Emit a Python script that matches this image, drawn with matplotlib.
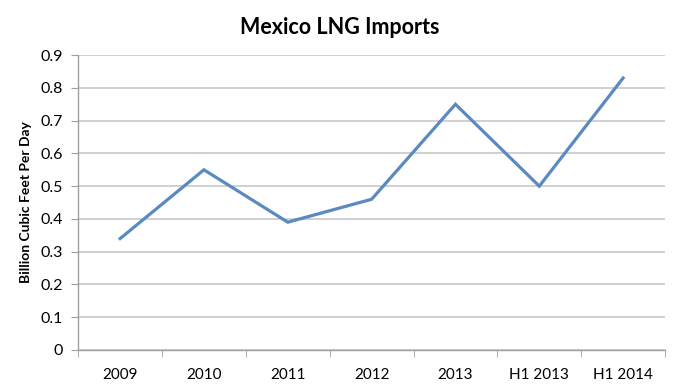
import matplotlib
matplotlib.use('Agg')
import matplotlib.pyplot as plt

categories = ['2009', '2010', '2011', '2012', '2013', 'H1 2013', 'H1 2014']
imports_bcfd = [0.34, 0.55, 0.39, 0.46, 0.75, 0.50, 0.83]
y_ticks = [0, 0.1, 0.2, 0.3, 0.4, 0.5, 0.6, 0.7, 0.8, 0.9]
y_tick_labels = ['0', '0.1', '0.2', '0.3', '0.4', '0.5', '0.6', '0.7', '0.8', '0.9']

plt.rcParams['font.family'] = ['Lato', 'DejaVu Sans']

fig = plt.figure(figsize=(6.8, 3.88), dpi=100)
ax = fig.add_axes([0.115, 0.098, 0.863, 0.76])

x_pos = list(range(len(categories)))
ax.plot(x_pos, imports_bcfd, color='#5A8AC0', linewidth=2.3, solid_joinstyle='miter')

ax.set_xlim(-0.5, len(categories) - 0.5)
ax.set_ylim(0, 0.9)
ax.set_yticks(y_ticks)
ax.set_yticklabels(y_tick_labels, fontsize=11.5)
ax.set_xticks(x_pos)
ax.set_xticklabels(categories, fontsize=11)
ax.set_xticks([i - 0.5 for i in range(len(categories) + 1)], minor=True)

ax.yaxis.grid(True, color='#C8C8C8', linewidth=1.2)
ax.set_axisbelow(True)
for s in ['top', 'right']:
    ax.spines[s].set_visible(False)
for s in ['left', 'bottom']:
    ax.spines[s].set_color('#A0A0A0')
    ax.spines[s].set_linewidth(1.0)

ax.tick_params(axis='x', which='major', length=0, pad=13)
ax.tick_params(axis='x', which='minor', length=5, color='#A0A0A0')
ax.tick_params(axis='y', length=5, color='#A0A0A0', pad=6)

ax.set_ylabel('Billion Cubic Feet Per Day', fontsize=10, fontweight='bold', labelpad=6)
fig.suptitle('Mexico LNG Imports', fontsize=15.5, fontweight='bold', x=0.5, y=0.955)

fig.savefig('out.png', dpi=100)
